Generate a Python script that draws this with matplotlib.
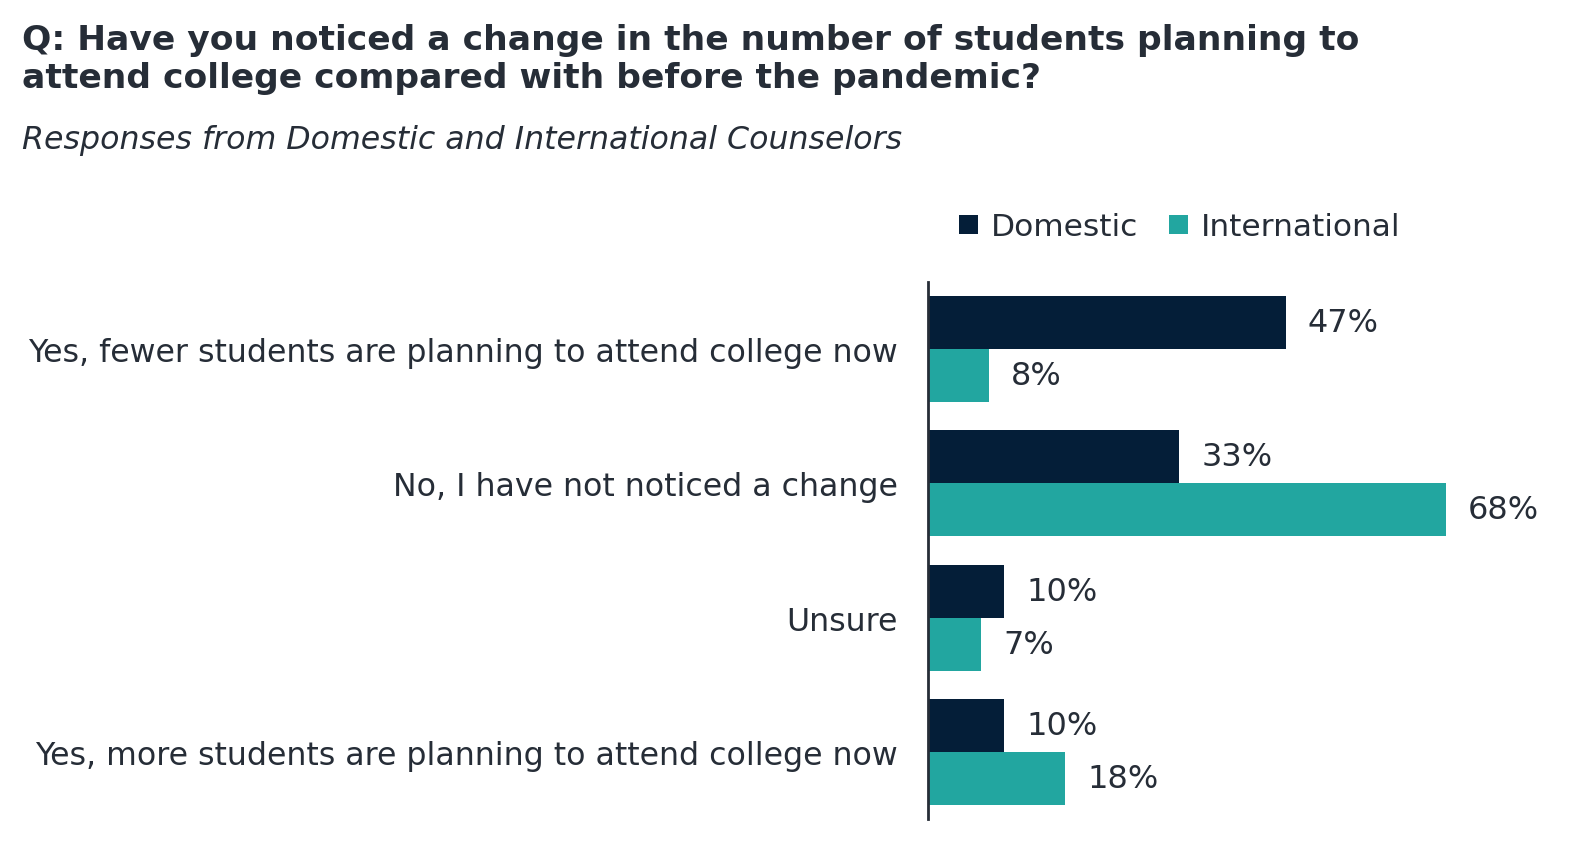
import numpy as np
import matplotlib
matplotlib.use('Agg')
import matplotlib.pyplot as plt

# survey data
categories = ['Yes, fewer students are planning to attend college now',
              'No, I have not noticed a change',
              'Unsure',
              'Yes, more students are planning to attend college now']
domestic = [47, 33, 10, 10]
international = [8, 68, 7, 18]

navy = '#041E38'
teal = '#22A6A0'
txt = '#262D37'

plt.rcParams['font.family'] = 'DejaVu Sans'

fig = plt.figure(figsize=(15.7, 8.54), dpi=100)
ax = fig.add_axes([928/1570, 34/854, 632/1570, 537/854])

y = np.arange(len(categories))
h = 0.395
b1 = ax.barh(y - h/2, domestic, height=h, color=navy, label='Domestic')
b2 = ax.barh(y + h/2, international, height=h, color=teal, label='International')

for bars, vals in [(b1, domestic), (b2, international)]:
    for bar, v in zip(bars, vals):
        ax.text(v + 2.9, bar.get_y() + bar.get_height()/2, f'{v}%',
                va='center', ha='left', fontsize=23, color=txt)

ax.set_xlim(0, 83)
ax.set_ylim(3.5, -0.5)
ax.set_yticks(y)
ax.set_yticklabels(categories, fontsize=22.8, color=txt)
ax.tick_params(axis='y', length=0, pad=22)
ax.set_xticks([])
for s in ['top', 'right', 'bottom']:
    ax.spines[s].set_visible(False)
ax.spines['left'].set_color(txt)
ax.spines['left'].set_linewidth(2)

leg = fig.legend(handles=[b1, b2], loc='center left', bbox_to_anchor=(953/1570, 1 - 228/854),
                 ncol=2, frameon=False, fontsize=22.5, handlelength=0.6, handleheight=0.6,
                 handletextpad=0.4, columnspacing=1.0, labelcolor=txt, borderaxespad=0,
                 borderpad=0.2)

fig.text(22/1570, 1 - 24/854,
         'Q: Have you noticed a change in the number of students planning to\n'
         'attend college compared with before the pandemic?',
         ha='left', va='top', fontsize=24.8, fontweight='bold', color=txt, linespacing=1.2)
fig.text(22/1570, 1 - 140/854, 'Responses from Domestic and International Counselors',
         ha='left', va='center', fontsize=22.8, style='italic', color=txt)

fig.savefig('out.png', dpi=100)
